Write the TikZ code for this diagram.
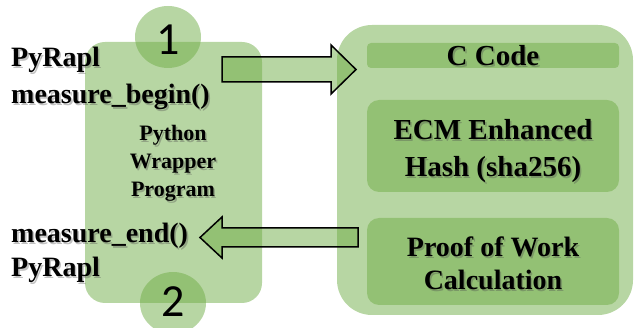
\documentclass[tikz,border=0pt]{standalone}
\usepackage{fontspec}
\setmainfont{Liberation Serif}
\newfontfamily\calfont{Carlito}
\definecolor{gr}{HTML}{70AD47}
\newcommand\shtext[4]{%
  \node[#2, text=black!70, opacity=0.35, shift={(1.6pt,-1.6pt)}] at #3 {#4};
  \node[#2] (#1) at #3 {#4};}
\begin{document}
\begin{tikzpicture}[x=1pt,y=-1pt,
  panel/.style={fill=gr, fill opacity=0.5, draw=none},
  blockarrow/.style={fill=gr, fill opacity=0.5, draw=black, line width=1.5pt, line join=miter},
  lbl/.style={inner sep=0pt, font=\fontsize{28}{30}\selectfont\bfseries},
  num/.style={inner sep=0pt, font=\fontsize{46}{48}\selectfont\calfont}]
\useasboundingbox (0,0) rectangle (634,328);
% left panel and circles
\path[panel, rounded corners=20pt] (85,42) rectangle (262,303);
\path[panel] (168,37) ellipse [x radius=33, y radius=31];
\path[panel] (173,303) ellipse [x radius=33, y radius=31];
% right panel and boxes
\path[panel, rounded corners=35pt] (337,25) rectangle (633,315);
\path[panel, rounded corners=4pt] (367,43) rectangle (619,68);
\path[panel, rounded corners=12pt] (367,100) rectangle (619,192);
\path[panel, rounded corners=12pt] (367,218) rectangle (619,305);
% numbers
\node[num] (n1) at (168,40) {1};
\node[num] (n2) at (173,302) {2};
% coordinates for block arrows
\coordinate (a1s) at (222,69.5);
\coordinate (a1t) at (356,69.5);
\coordinate (a2s) at (358,237.5);
\coordinate (a2t) at (200,237.5);
\draw[blockarrow] (222,57) -- (331,57) -- (331,45) -- (a1t) -- (331,94) -- (331,82) -- (222,82) -- cycle;
\draw[blockarrow] (a2s) ++(0,-9.5) -- (222,228) -- (222,217) -- (a2t) -- (222,258) -- (222,247) -- (358,247) -- cycle;
% left labels
\shtext{pr1}{lbl, anchor=base west}{(11,67)}{PyRapl}
\shtext{mb}{lbl, anchor=base west}{(11,104)}{measure\_begin()}
\shtext{me}{lbl, anchor=base west}{(11,243)}{measure\_end()}
\shtext{pr2}{lbl, anchor=base west}{(11,277)}{PyRapl}
\shtext{pw}{inner sep=0pt, align=center, anchor=base, font=\fontsize{22}{28}\selectfont\bfseries}{(173,197)}{Python\\Wrapper\\Program}
% right labels
\shtext{cc}{lbl, anchor=base, font=\fontsize{29}{30}\selectfont\bfseries}{(493,66)}{C Code}
\shtext{ecm}{lbl, anchor=base, align=center, font=\fontsize{29}{37}\selectfont\bfseries}{(493,177)}{ECM Enhanced\\Hash (sha256)}
\shtext{pow}{lbl, anchor=base, align=center, font=\fontsize{28}{33}\selectfont\bfseries}{(493,290)}{Proof of Work\\Calculation}
\end{tikzpicture}
\end{document}
